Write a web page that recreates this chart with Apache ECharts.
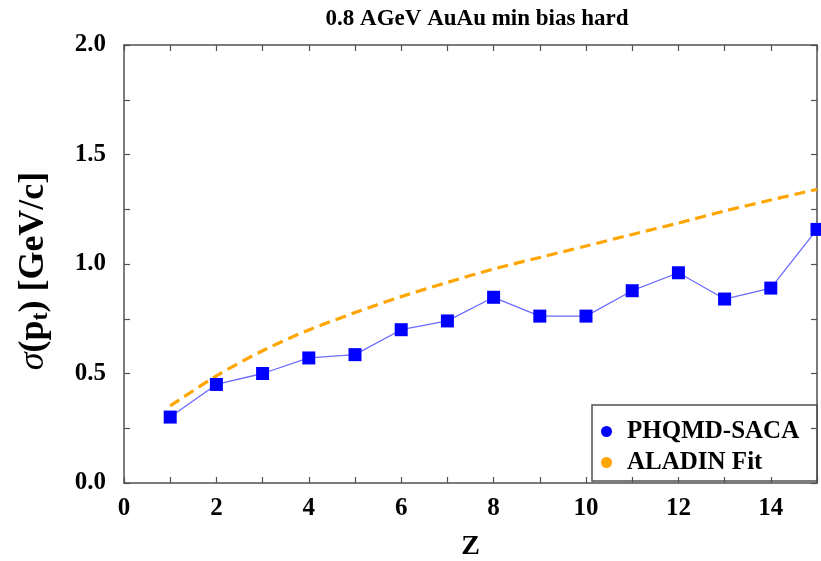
<!DOCTYPE html>
<html>
<head>
<meta charset="utf-8">
<script src="https://cdn.jsdelivr.net/npm/echarts@6/dist/echarts.min.js"></script>
<style>html,body{margin:0;padding:0;background:#fff}#c{width:821px;height:561px}</style>
</head>
<body>
<div id="c"></div>
<script>
const titleText = '0.8 AGeV AuAu min bias hard';
const zValues = [1,2,3,4,5,6,7,8,9,10,11,12,13,14,15];
const phqmdSaca = [0.301,0.450,0.500,0.571,0.586,0.700,0.740,0.848,0.762,0.762,0.878,0.960,0.840,0.890,1.158];
const aladinFit = [0.352,0.489,0.604,0.699,0.778,0.851,0.916,0.977,1.030,1.082,1.135,1.187,1.242,1.292,1.341];
const seriesNames = ['PHQMD-SACA','ALADIN Fit'];

const FONT = '"Liberation Serif", "Times New Roman", serif';
const axisColor = '#505050';
const chart = echarts.init(document.getElementById('c'), null, {renderer:'canvas'});

function frameAxis(extra){
  return Object.assign({
    axisLine:{show:true,onZero:false,lineStyle:{color:axisColor,width:1.5}},
    axisTick:{show:true,inside:true,length:6,lineStyle:{color:axisColor,width:1.2}},
    splitLine:{show:false}
  }, extra);
}

chart.setOption({
  backgroundColor:'#fff',
  animation:false,
  title:{text:titleText,left:472,textAlign:'center',top:3,
    textStyle:{fontFamily:FONT,fontWeight:'bold',fontSize:23,color:'#000'}},
  grid:{left:124,right:4,top:45,bottom:78,containLabel:false,outerBoundsMode:'none'},
  legend:{
    orient:'vertical',left:592,top:405,
    borderColor:axisColor,borderWidth:1.5,
    padding:[14,18,6,9],itemGap:6,itemWidth:11,itemHeight:11,
    data:[{name:seriesNames[0],icon:'circle'},{name:seriesNames[1],icon:'circle'}],
    textStyle:{fontFamily:FONT,fontWeight:'bold',fontSize:25,color:'#000',padding:[0,0,0,10]}
  },
  xAxis:[
    frameAxis({type:'value',min:0,max:15,interval:1,position:'bottom',
      name:'Z',nameLocation:'middle',nameGap:50,
      nameTextStyle:{fontFamily:FONT,fontWeight:'bold',fontSize:28,color:'#000'},
      axisLabel:{fontFamily:FONT,fontWeight:'bold',fontSize:25,color:'#000',margin:13,
        formatter:v=> (v%2===0 && v<15) ? String(v) : ''}}),
    frameAxis({type:'value',min:0,max:15,interval:1,position:'top',axisLabel:{show:false}})
  ],
  yAxis:[
    frameAxis({type:'value',min:0,max:2,interval:0.25,position:'left',
      name:'{s|σ}(p{t|t}) [GeV/c]',nameLocation:'middle',nameGap:71,
      nameTextStyle:{fontFamily:FONT,fontWeight:'bold',fontSize:36,color:'#000',padding:[0,14,0,0],
        rich:{s:{fontFamily:FONT,fontStyle:'italic',fontWeight:'normal',fontSize:36,color:'#000'},
              t:{fontFamily:FONT,fontWeight:'bold',fontSize:24,color:'#000',verticalAlign:'bottom',padding:[15,0,0,0]}}},
      axisLabel:{fontFamily:FONT,fontWeight:'bold',fontSize:25,color:'#000',margin:18,
        formatter:v=> (Math.abs(v*2-Math.round(v*2))<1e-9) ? v.toFixed(1) : ''}}),
    frameAxis({type:'value',min:0,max:2,interval:0.25,position:'right',axisLabel:{show:false}})
  ],
  series:[
    {name:seriesNames[0],type:'line',data:zValues.map((z,i)=>[z,phqmdSaca[i]]),
     symbol:'rect',symbolSize:13,showSymbol:true,
     itemStyle:{color:'#0000ff'},
     lineStyle:{color:'#6b6bff',width:1.3},z:3},
    {name:seriesNames[1],type:'line',data:zValues.map((z,i)=>[z,aladinFit[i]]),
     symbol:'none',smooth:0.3,
     itemStyle:{color:'#ffa500'},
     lineStyle:{color:'#ffa500',width:3.2,type:[11,6]},z:2}
  ]
});
</script>
</body>
</html>
